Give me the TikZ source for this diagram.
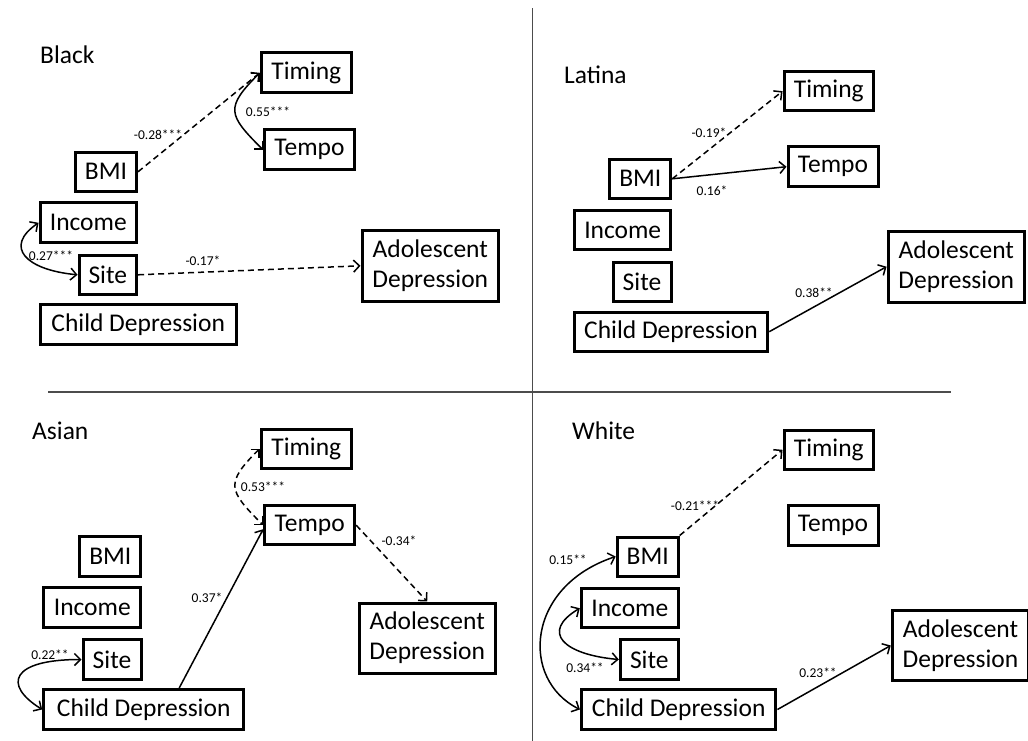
\documentclass[tikz,border=0pt]{standalone}
\usepackage{fontspec}
\setmainfont{Carlito}
\usetikzlibrary{arrows.meta}
\begin{document}
\begin{tikzpicture}[x=1pt,y=1pt,
  box/.style 2 args={draw, line width=3pt, inner sep=0pt, align=center,
    minimum width=#1, minimum height=#2, font=\fontsize{25.5}{30}\selectfont},
  grp/.style={inner sep=0pt, anchor=west, font=\fontsize{25.5}{30}\selectfont},
  lab/.style={inner sep=0pt, font=\fontsize{13.5}{16}\selectfont},
  conn/.style={line width=1.5pt, -{Straight Barb[length=6pt,width=12pt]}},
  cov/.style={line width=1.5pt, {Straight Barb[length=6pt,width=12pt]}-{Straight Barb[length=6pt,width=12pt]}},
  dsh/.style={dash pattern=on 6pt off 4pt},
  divider/.style={draw=black!70, line width=1.4pt}
]
\useasboundingbox (0,0) rectangle (1028,-741);

% dividers
\draw[divider] (532.3,-8.3) -- (532.3,-741);
\draw[divider] (48.3,-392) -- (951,-392);

% ---------------- Black ----------------
\node[grp] (bTitle) at (40,-55) {Black};
\node[box={90pt}{40pt}] (bTiming) at (306.3,-72.8) {Timing};
\node[box={90pt}{40pt}] (bTempo) at (309.5,-149.8) {Tempo};
\node[box={61pt}{39pt}] (bBMI) at (106,-171.8) {BMI};
\node[box={96.5pt}{40pt}] (bIncome) at (88.3,-222.8) {Income};
\node[box={57.5pt}{39pt}] (bSite) at (107.8,-274.8) {Site};
\node[box={196pt}{40pt}] (bCD) at (138.2,-324.3) {Child Depression};
\node[box={136.5pt}{71pt}] (bAD) at (430.3,-265.8) {Adolescent\\Depression};

\draw[conn,dsh] (bBMI.east) -- (bTiming.west) node[lab] at (158,-135) {-0.28***};
\draw[cov] (bTiming.west) .. controls +(-35,-35) and +(-35,35) .. (bTempo.west) node[lab] at (268,-112) {0.55***};
\draw[cov] (bIncome.west) .. controls +(-35,-24) and +(-52,5) .. (bSite.west) node[lab] at (51,-256) {0.27***};
\draw[conn,dsh] (bSite.east) -- (bAD.west) node[lab] at (203,-261) {-0.17*};

% ---------------- Latina ----------------
\node[grp] (lTitle) at (564,-75) {Latina};
\node[box={89.5pt}{39.5pt}] (lTiming) at (828.8,-91.2) {Timing};
\node[box={90pt}{39.5pt}] (lTempo) at (833,-166.7) {Tempo};
\node[box={61pt}{39.5pt}] (lBMI) at (640.3,-178.8) {BMI};
\node[box={96.5pt}{39pt}] (lIncome) at (622.7,-230.2) {Income};
\node[box={58pt}{39pt}] (lSite) at (642,-281.8) {Site};
\node[box={193.5pt}{39pt}] (lCD) at (671,-331.7) {Child Depression};
\node[box={136.5pt}{71pt}] (lAD) at (956.3,-266.7) {Adolescent\\Depression};

\draw[conn,dsh] (lBMI.east) -- (lTiming.west) node[lab] at (709,-133) {-0.19*};
\draw[conn] (lBMI.east) -- (lTempo.west) node[lab] at (712,-191) {0.16*};
\draw[conn] (lCD.east) -- (lAD.west) node[lab] at (814,-293) {0.38**};

% ---------------- Asian ----------------
\node[grp] (aTitle) at (32,-431) {Asian};
\node[box={90pt}{39pt}] (aTiming) at (306.3,-448.5) {Timing};
\node[box={90pt}{39pt}] (aTempo) at (309.7,-525.2) {Tempo};
\node[box={61pt}{40pt}] (aBMI) at (110.3,-556.2) {BMI};
\node[box={97pt}{40pt}] (aIncome) at (92.3,-607.8) {Income};
\node[box={58pt}{40pt}] (aSite) at (112,-659.5) {Site};
\node[box={200pt}{40pt}] (aCD) at (143.7,-709.5) {Child Depression};
\node[box={136pt}{70pt}] (aAD) at (427.2,-638) {Adolescent\\Depression};

\draw[cov,dsh] (aTiming.west) .. controls +(-35,-35) and +(-35,35) .. (aTempo.west) node[lab] at (263,-487) {0.53***};
\draw[conn] ([xshift=35.5pt]aCD.north) -- ([yshift=-4pt]aTempo.west) node[lab] at (207,-598) {0.37*};
\draw[conn,dsh] (aTempo.east) -- (aAD.north) node[lab] at (399,-541) {-0.34*};
\draw[cov] (aSite.west) .. controls +(-70,0) and +(-40,25) .. (aCD.west) node[lab] at (50,-655) {0.22**};

% ---------------- White ----------------
\node[grp] (wTitle) at (572,-431) {White};
\node[box={89.5pt}{39pt}] (wTiming) at (828.8,-449.8) {Timing};
\node[box={90pt}{40pt}] (wTempo) at (833,-525.5) {Tempo};
\node[box={61pt}{39pt}] (wBMI) at (647.7,-556.5) {BMI};
\node[box={97pt}{39pt}] (wIncome) at (629.8,-608.2) {Income};
\node[box={58pt}{40pt}] (wSite) at (649.3,-659.5) {Site};
\node[box={194.5pt}{40pt}] (wCD) at (678.7,-709.5) {Child Depression};
\node[box={136.5pt}{70pt}] (wAD) at (960.5,-645.5) {Adolescent\\Depression};

\draw[conn,dsh] (wBMI.north east) -- (wTiming.west) node[lab] at (695,-506) {-0.21***};
\draw[cov] (wBMI.west) .. controls +(-90,-30) and +(-60,30) .. (wCD.west) node[lab] at (568,-560) {0.15**};
\draw[cov] (wIncome.west) .. controls +(-40,-24) and +(-55,5) .. (wSite.west) node[lab] at (585,-668) {0.34**};
\draw[conn] (wCD.east) -- (wAD.west) node[lab] at (818,-673) {0.23**};
\end{tikzpicture}
\end{document}
